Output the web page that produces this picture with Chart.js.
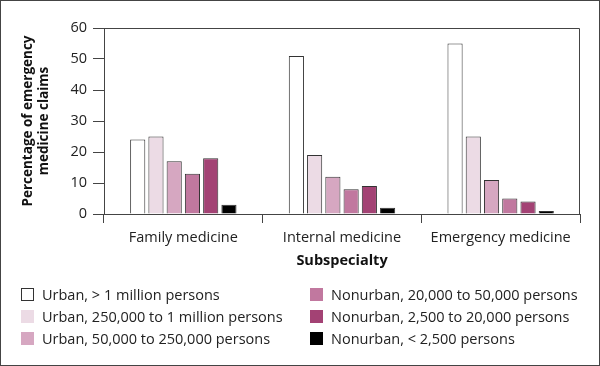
<!DOCTYPE html>
<html lang="en">
<head>
<meta charset="UTF-8">
<title>Emergency medicine claims by subspecialty</title>
<script src="https://cdn.jsdelivr.net/npm/chart.js"></script>
<style>
  body { margin: 0; background: #fff; }
  #frame { position: relative; width: 600px; height: 366px; box-sizing: border-box; border: 1px solid #444; font-family: 'Open Sans', sans-serif; color: #222; }
  #chart { position: absolute; left: 0; top: 0; }
  #legend { position: absolute; left: 20px; top: 282px; display: grid; grid-auto-flow: column; grid-template-rows: repeat(3, 22px); grid-template-columns: 289px auto; font-size: 14.5px; }
  .item { display: flex; align-items: center; white-space: nowrap; }
  .box { width: 13px; height: 13px; margin-right: 8px; box-sizing: border-box; }
</style>
</head>
<body>
<div id="frame">
  <canvas id="chart" width="598" height="364"></canvas>
  <div id="legend"></div>
</div>
<script>
  const subspecialties = ['Family medicine', 'Internal medicine', 'Emergency medicine'];
  const groupLabels = [
    'Urban, > 1 million persons',
    'Urban, 250,000 to 1 million persons',
    'Urban, 50,000 to 250,000 persons',
    'Nonurban, 20,000 to 50,000 persons',
    'Nonurban, 2,500 to 20,000 persons',
    'Nonurban, < 2,500 persons'
  ];
  const urbanOver1M = [24, 51, 55];
  const urban250kTo1M = [25, 19, 25];
  const urban50kTo250k = [17, 12, 11];
  const nonurban20kTo50k = [13, 8, 5];
  const nonurban2500To20k = [18, 9, 4];
  const nonurbanUnder2500 = [3, 2, 1];
  const yTicks = [0, 10, 20, 30, 40, 50, 60];

  const seriesValues = [urbanOver1M, urban250kTo1M, urban50kTo250k, nonurban20kTo50k, nonurban2500To20k, nonurbanUnder2500];
  const fills = ['#ffffff', '#ecdbe5', '#d6a7c1', '#c1789f', '#a34274', '#000000'];
  const lineColor = '#444';

  // legend in two columns, built from the same labels / colours
  const legendEl = document.getElementById('legend');
  groupLabels.forEach((label, i) => {
    const item = document.createElement('div');
    item.className = 'item';
    const box = document.createElement('span');
    box.className = 'box';
    box.style.background = fills[i];
    if (i === 0) box.style.border = '1.5px solid #333';
    item.appendChild(box);
    item.appendChild(document.createTextNode(label));
    legendEl.appendChild(item);
  });

  // top and right edges of the plot box
  const frameBox = {
    id: 'frameBox',
    afterDraw(chart) {
      const { ctx, chartArea: a } = chart;
      ctx.save();
      ctx.strokeStyle = lineColor;
      ctx.lineWidth = 1;
      ctx.beginPath();
      ctx.moveTo(Math.round(a.left), Math.round(a.top) + 0.5);
      ctx.lineTo(Math.round(a.right) - 0.5, Math.round(a.top) + 0.5);
      ctx.lineTo(Math.round(a.right) - 0.5, Math.round(a.bottom));
      ctx.stroke();
      ctx.restore();
    }
  };

  new Chart(document.getElementById('chart'), {
    type: 'bar',
    data: {
      labels: subspecialties,
      datasets: seriesValues.map((vals, i) => ({
        label: groupLabels[i],
        data: vals,
        backgroundColor: fills[i],
        borderColor: '#333',
        borderWidth: 1,
        categoryPercentage: 0.69,
        barPercentage: 0.83
      }))
    },
    options: {
      responsive: false,
      animation: false,
      layout: { padding: { left: 0, top: 27, right: 19, bottom: 91 } },
      plugins: { legend: { display: false }, tooltip: { enabled: false } },
      scales: {
        x: {
          grid: { drawOnChartArea: false, drawTicks: true, tickLength: 9, color: lineColor, offset: true },
          border: { color: lineColor, width: 1 },
          ticks: { color: '#222', font: { family: 'Open Sans', size: 14.5 }, padding: 6 },
          title: { display: true, text: 'Subspecialty', color: '#111', font: { family: 'Open Sans', size: 14.5, weight: 'bold' }, padding: { top: 3 } },
          afterFit: s => { s.height = 60; }
        },
        y: {
          min: 0, max: 60,
          afterBuildTicks: s => { s.ticks = yTicks.map(v => ({ value: v })); },
          grid: { drawOnChartArea: false, drawTicks: true, tickLength: 11, color: lineColor },
          border: { color: lineColor, width: 1 },
          ticks: { color: '#222', font: { family: 'Open Sans', size: 14.5 }, padding: 6 },
          title: { display: true, text: ['Percentage of emergency', 'medicine claims'], color: '#111', font: { family: 'Open Sans', size: 13.5, weight: 'bold' }, padding: { top: 19 } },
          afterFit: s => { s.width = 103; }
        }
      }
    },
    plugins: [frameBox]
  });
</script>
</body>
</html>
